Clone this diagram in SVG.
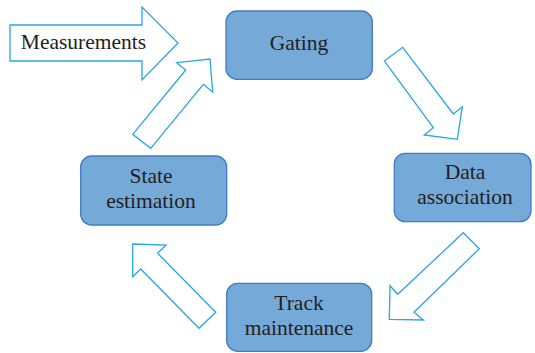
<svg xmlns="http://www.w3.org/2000/svg" width="535" height="353" viewBox="0 0 535 353">
  <style>
    .box { fill: #75a9d8; stroke: #3f7cc0; stroke-width: 1.3; }
    .arrow { fill: #ffffff; stroke: #2aa6e0; stroke-width: 1.3; stroke-linejoin: miter; }
    .label { font-family: "Liberation Serif", "Times New Roman", serif; font-size: 21.5px; fill: #231f20; text-anchor: middle; }
  </style>
  <rect width="535" height="353" fill="#ffffff"/>

  <g id="connectors">
    <!-- Measurements input arrow -->
    <polygon class="arrow" points="10,25 142,25 142,7 178,43 142,80 142,61 10,61"/>
    <!-- State estimation to Gating -->
    <polygon class="arrow" points="132.7,134.3 185.7,70 176.7,62.7 210,59 212.7,92 203.3,84.3 150.7,148.3"/>
    <!-- Gating to Data association -->
    <polygon class="arrow" points="384.3,61 402.7,47.3 453.3,114 462.3,106.7 457.3,139.3 424.3,135 433.3,127.7"/>
    <!-- Data association to Track maintenance -->
    <polygon class="arrow" points="463.3,232.7 479.3,248.7 414,312.3 423.3,320 389.3,319.3 390,285.7 397.7,294.3"/>
    <!-- Track maintenance to State estimation -->
    <polygon class="arrow" points="215.7,312.3 199,328.3 140.7,269 132.7,276.7 132.7,244 166,245 157.7,253.3"/>
  </g>

  <g id="measurements">
    <text class="label" x="83.5" y="48.5">Measurements</text>
  </g>

  <g id="gating">
    <rect class="box" x="226" y="11" width="146.3" height="68.3" rx="11"/>
    <text class="label" x="299" y="50">Gating</text>
  </g>

  <g id="data-association">
    <rect class="box" x="394.3" y="153.3" width="136.7" height="68.4" rx="11"/>
    <text class="label" x="465" y="179.3">Data</text>
    <text class="label" x="465" y="204">association</text>
  </g>

  <g id="track-maintenance">
    <rect class="box" x="226.7" y="283.3" width="145" height="68" rx="11"/>
    <text class="label" x="299" y="310">Track</text>
    <text class="label" x="299" y="335">maintenance</text>
  </g>

  <g id="state-estimation">
    <rect class="box" x="80.7" y="156" width="146" height="69" rx="11"/>
    <text class="label" x="151" y="183.3">State</text>
    <text class="label" x="151" y="208.3">estimation</text>
  </g>
</svg>
